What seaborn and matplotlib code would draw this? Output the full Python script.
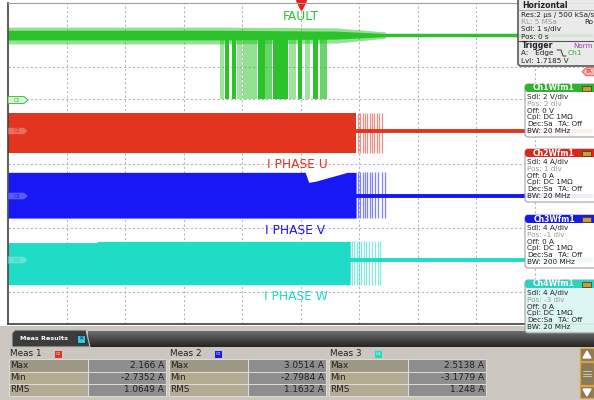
import matplotlib
matplotlib.use("Agg")
import matplotlib.pyplot as plt
from matplotlib.patches import Rectangle, FancyBboxPatch, Polygon
import numpy as np
import seaborn as sns

# scope settings
chan_labels = ["FAULT", "I PHASE U", "I PHASE V", "I PHASE W"]
chan_scale = [2.0, 4.0, 4.0, 4.0]      # V/div, A/div
chan_pos = [2, 1, -1, -3]              # div
chan_colors = ["#2ac42a", "#e2341f", "#1818f6", "#1fdcc6"]
chan_head = ["#2db52d", "#d8281c", "#1a1ae8", "#2ad4c0"]
trig_level = 1.7185
trig_pos = 0.0

# Ch1 FAULT (V)
fault_t = [-5.0, -1.4, 0.6, 1.45]
fault_outer_hi = [4.5, 4.5, 4.45, 4.2]
fault_outer_lo = [3.45, 3.45, 3.5, 3.8]
fault_inner_hi = [4.3, 4.3, 4.25, 4.1]
fault_inner_lo = [3.7, 3.7, 3.75, 3.9]
fault_level = 4.0
pulse_t0 = [-1.38, -1.29, -1.17, -1.09, -0.98, -0.73, -0.61, -0.47, -0.20, -0.04, 0.08, 0.21, 0.33]
pulse_t1 = [-1.30, -1.22, -1.10, -1.00, -0.74, -0.61, -0.49, -0.21, -0.08, 0.03, 0.16, 0.30, 0.45]
pulse_alpha = [0.45, 1.0, 1.0, 0.45, 0.5, 1.0, 0.7, 1.0, 0.45, 1.0, 0.45, 1.0, 0.7]
pulse_low = 0.0

# phase currents (A): envelope while switching, sparse tail, then 0 A
u_t = [-5.0, 0.95]
u_hi = [2.25, 2.25]
u_lo = [-2.7, -2.7]
u_tail = [0.98, 1.02, 1.06, 1.10, 1.14, 1.18, 1.22, 1.26, 1.31, 1.35, 1.39]

v_t = [-5.0, 0.08, 0.14, 0.26, 0.8, 0.95]
v_hi = [2.9, 2.9, 1.65, 1.8, 2.9, 2.9]
v_lo = [-2.8, -2.8, -2.8, -2.8, -2.8, -2.8]
v_tail = [0.98, 1.02, 1.06, 1.10, 1.14, 1.18, 1.23, 1.28, 1.33, 1.39, 1.44]

w_t = [-5.0, -3.5, -3.45, 0.85]
w_hi = [2.15, 2.15, 2.3, 2.3]
w_lo = [-3.1, -3.1, -3.1, -3.1]
w_tail = [0.88, 0.92, 0.96, 1.00, 1.04, 1.08, 1.12, 1.17, 1.22, 1.27, 1.32, 1.36]

# info panels
hor_rows = ["Res:2 µs / 500 kSa/s", "RL: 5 MSa", "Sdl: 1 s/div", "Pos: 0 s"]
trig_rows = ["Trigger", "A:   Edge", "Lvl: 1.7185 V"]
chan_sdl = ["Sdl: 2 V/div", "Sdl: 4 A/div", "Sdl: 4 A/div", "Sdl: 4 A/div"]
chan_postxt = ["Pos: 2 div", "Pos: 1 div", "Pos: -1 div", "Pos: -3 div"]
chan_off = ["Off: 0 V", "Off: 0 A", "Off: 0 A", "Off: 0 A"]
chan_bw = ["BW: 20 MHz", "BW: 20 MHz", "BW: 200 MHz", "BW: 20 MHz"]

meas_names = ["Meas 1", "Meas 2", "Meas 3"]
meas_src = ["C2", "C3", "C4"]
meas_rows = ["Max", "Min", "RMS"]
meas_max = ["2.166 A", "3.0514 A", "2.5138 A"]
meas_min = ["-2.7352 A", "-2.7984 A", "-3.1779 A"]
meas_rms = ["1.0649 A", "1.1632 A", "1.248 A"]

sns.set_style("white")
plt.rcParams["font.family"] = ["DejaVu Sans"]


def to_div(vals, ch):
    return np.asarray(vals, dtype=float) / chan_scale[ch] + chan_pos[ch]


fig = plt.figure(figsize=(5.94, 4.0), dpi=100)
ax = fig.add_axes([8 / 594, 76 / 400, 585 / 594, 321 / 400])
ax.set_xlim(-5, 5)
ax.set_ylim(-5, 5)
ax.set_xticks(np.arange(-4, 5))
ax.set_yticks(np.arange(-4, 5))
ax.tick_params(length=0, labelbottom=False, labelleft=False)
ax.grid(True, color="#b8b8b8", linestyle=(0, (2, 2)), lw=0.8)
for s in ["left", "bottom"]:
    ax.spines[s].set_color("#404040")
    ax.spines[s].set_linewidth(1.2)
ax.spines["top"].set_color("#a0a0a0")
ax.spines["right"].set_visible(False)

# --- Ch1 fault line
c = chan_colors[0]
ax.fill_between(fault_t, to_div(fault_outer_lo, 0), to_div(fault_outer_hi, 0), color=c, alpha=0.5, lw=0)
ax.fill_between(fault_t, to_div(fault_inner_lo, 0), to_div(fault_inner_hi, 0), color=c, lw=0)
t0 = np.array(pulse_t0)
t1 = np.array(pulse_t1)
lo = to_div([pulse_low], 0)[0]
hi = to_div([fault_level], 0)[0]
for a, b, al in zip(t0, t1, pulse_alpha):
    ax.bar((a + b) / 2, hi - lo, width=b - a, bottom=lo, color=c, alpha=al, lw=0)
sns.lineplot(x=[fault_t[-1], 5.0], y=to_div([fault_level, fault_level], 0), color=c, lw=2.5, ax=ax)

# --- phase currents
phases = [(1, u_t, u_hi, u_lo, u_tail), (2, v_t, v_hi, v_lo, v_tail), (3, w_t, w_hi, w_lo, w_tail)]
for ch, tt, h, l, tail in phases:
    col = chan_colors[ch]
    ax.fill_between(tt, to_div(l, ch), to_div(h, ch), color=col, lw=0)
    ax.vlines(tail, to_div([l[-1]], ch)[0], to_div([h[-1]], ch)[0], color=col, alpha=0.55, lw=0.9)
    sns.lineplot(x=[tt[0], 5.0], y=to_div([0, 0], ch), color=col, lw=2.8, ax=ax)

# trigger marker at top
ax.plot([trig_pos], [4.93], marker="v", color="#e82020", ms=7, clip_on=False)

# overlay in pixel coordinates
ov = fig.add_axes([0, 0, 1, 1], zorder=5)
ov.set_xlim(0, 594)
ov.set_ylim(400, 0)
ov.axis("off")
ov.patch.set_alpha(0)


def rbox(x, y, w, h, fc, ec="none", lw=0.0, r=0.0, alpha=1.0, z=2):
    if r > 0:
        p = FancyBboxPatch((x, y), w, h, boxstyle=f"round,pad=0,rounding_size={r}",
                           fc=fc, ec=ec, lw=lw, alpha=alpha, zorder=z)
    else:
        p = Rectangle((x, y), w, h, fc=fc, ec=ec, lw=lw, alpha=alpha, zorder=z)
    ov.add_patch(p)


def txt(x, y, s, size=5.2, color="#202020", weight="normal", ha="left", z=4):
    ov.text(x, y, s, fontsize=size, color=color, fontweight=weight, ha=ha, va="center", zorder=z)


# trace labels
label_xy = [(301, 16), (297, 164), (295, 231), (296, 297)]
for i, (x, y) in enumerate(label_xy):
    txt(x, y, chan_labels[i], 8.8, chan_colors[i], ha="center")

# channel markers on left edge
tag_y = [100, 131, 196, 260]
tag_fc = ["#d8f3d8", "#f2a89c", "#9c9cf6", "#a0eee4"]
for i, y in enumerate(tag_y):
    ov.add_patch(Polygon([[8, y - 3.5], [24, y - 3.5], [28, y], [24, y + 3.5], [8, y + 3.5]],
                         closed=True, fc=tag_fc[i], ec=chan_head[i], lw=0.6, alpha=1 if i == 0 else 0.5, zorder=3))
    txt(17, y, f"C{i + 1}", 3.6, chan_head[i], ha="center")

# trigger level tag on right
ty = 163.5 - (trig_level / chan_scale[0] + chan_pos[0]) * 32.1
ov.add_patch(Polygon([[582, ty], [586, ty - 4], [596, ty - 4], [596, ty + 4], [586, ty + 4]],
                     closed=True, fc="#f5b5b0", ec="#e05050", lw=0.6, zorder=3))
txt(589, ty, "TA", 3.8, "#d02020", ha="center")

# horizontal / trigger box
rbox(518, -4, 82, 70, fc="#e8e8e8", ec="#555555", lw=1.3, r=3, alpha=0.9)
txt(522, 6, "Horizontal", 5.6, weight="bold")
ov.plot([518, 600], [10, 10], color="#999999", lw=0.6, zorder=3)
for k, row in enumerate(hor_rows):
    txt(521, 14.5 + k * 7.5, row, 5.2, "#9a9a9a" if k == 1 else "#202020")
txt(584, 22, "Ro", 5.2)
ov.plot([518, 600], [41, 41], color="#555555", lw=0.8, zorder=3)
txt(522, 45.5, trig_rows[0], 5.6, weight="bold")
txt(573, 45.5, "Norm", 5.1, "#9a3aa8")
txt(521, 53, trig_rows[1], 5.2)
ov.plot([557, 561, 563, 566], [50, 50, 56, 56], color="#333333", lw=0.7, zorder=4)
txt(568, 53, "Ch1", 5.4, chan_head[0])
txt(521, 61, trig_rows[2], 5.2)

# bottom measurement panel
rbox(0, 325.5, 594, 75, fc="#cbc7c0", z=2)
grad = np.linspace(0, 1, 20).reshape(-1, 1)
ov.imshow(grad, cmap=matplotlib.colors.LinearSegmentedColormap.from_list("g", ["#6c6c6c", "#262626"]),
          extent=[88, 594, 347, 331], aspect="auto", zorder=2.5)
ov.add_patch(Polygon([[12, 347], [12, 333], [15, 330], [86, 330], [90, 347]], closed=True,
                     fc="#3c3c3c", ec="#bdbdbd", lw=0.8, zorder=2.6))
txt(20, 339, "Meas Results", 4.6, "white", weight="bold")
rbox(77, 335, 8, 8, fc="#38c8e0", ec="#1a1a1a", lw=0.5, z=3)
txt(81, 339, "✕", 4.6, "#10303a", ha="center")

col_x = [9, 169, 329]
row_y = [358.5, 371.5, 383.5]
row_h = [13, 12, 12.5]
src_col = [chan_colors[1], chan_colors[2], chan_colors[3]]
vals = [meas_max, meas_min, meas_rms]
for j in range(3):
    x0 = col_x[j]
    txt(x0 + 1, 353.5, meas_names[j], 6.4)
    rbox(x0 + 46, 350.5, 7, 7, fc=src_col[j], z=3)
    txt(x0 + 49.5, 354, meas_src[j], 2.8, "white", ha="center")
    for r in range(3):
        rbox(x0, row_y[r], 79, row_h[r], fc="#9e9886" if r == 0 else "#b3ab94", ec="#e8e4dc", lw=0.6, z=3)
        rbox(x0 + 79, row_y[r], 78, row_h[r], fc="#8e8e8e", ec="#e8e4dc", lw=0.6, z=3)
        txt(x0 + 1.5, row_y[r] + row_h[r] / 2, meas_rows[r], 6.4)
        txt(x0 + 155, row_y[r] + row_h[r] / 2, vals[r][j], 6.4, ha="right")

# scrollbar
for y0, h in [(348, 13), (362, 23), (386, 12)]:
    rbox(580, y0, 14, h, fc="#8a7a55", ec="#e0a040", lw=0.9, z=3)
ov.add_patch(Polygon([[583, 358], [587, 351], [591, 358]], closed=True, fc="white", zorder=4))
ov.add_patch(Polygon([[583, 389], [587, 396], [591, 389]], closed=True, fc="white", zorder=4))
for yy in [371, 373.5, 376]:
    ov.plot([583, 591], [yy, yy], color="#d8d0c0", lw=0.6, zorder=4)

# channel info boxes
box_top = [85, 150, 216, 281]
box_fc = ["white", "white", "white", "#dcf6f2"]
for i, top in enumerate(box_top):
    rbox(525, top - 1, 74, 53, fc=box_fc[i], ec="#9a9a9a", lw=0.8, r=3, alpha=0.92, z=6)
    rbox(525, top - 1, 74, 8, fc=chan_head[i], r=3, z=6.5)
    txt(554, top + 3, f"Ch{i + 1}Wfm1", 5.6, "white", weight="bold", ha="center", z=7)
    rbox(582, top + 0.5, 9, 5, fc="#c9a030", ec="#333333", lw=0.5, z=7)
    lines = [chan_sdl[i], chan_postxt[i], chan_off[i], "Cpl: DC 1MΩ", "Dec:Sa", chan_bw[i]]
    for k, s in enumerate(lines):
        txt(527, top + 12 + k * 6.8, s, 5.2, "#9a9a9a" if k == 1 else "#202020", z=7)
    txt(558, top + 12 + 4 * 6.8, "TA: Off", 5.2, z=7)

fig.savefig("out.png", dpi=100)
